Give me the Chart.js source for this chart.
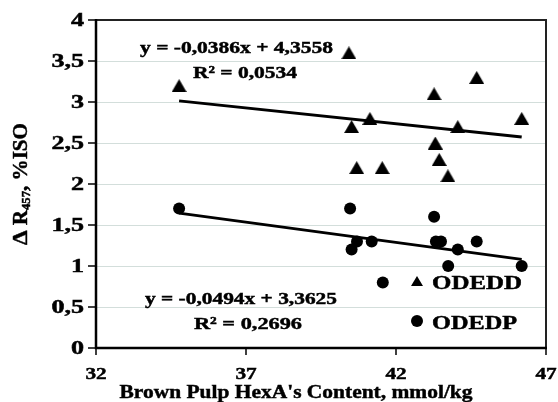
<!DOCTYPE html>
<html><head><meta charset="utf-8">
<script src="https://cdn.jsdelivr.net/npm/chart.js@4"></script>
<style>html,body{margin:0;padding:0;background:#fff;overflow:hidden}canvas{display:block}</style>
</head><body>
<canvas id="c" width="558" height="402"></canvas>
<script>
// ---- data ----
const odeddX = [34.77, 40.43, 40.52, 40.69, 41.13, 41.54, 43.27, 43.31, 43.44, 43.73, 44.06, 44.69, 46.19];
const odeddY = [3.2, 3.6, 2.7, 2.2, 2.8, 2.2, 3.1, 2.5, 2.3, 2.1, 2.7, 3.3, 2.8];
const odedpX = [34.77, 40.47, 40.52, 40.70, 41.19, 41.56, 43.27, 43.33, 43.50, 43.74, 44.06, 44.69, 46.19];
const odedpY = [1.7, 1.7, 1.2, 1.3, 1.3, 0.8, 1.6, 1.3, 1.3, 1.0, 1.2, 1.3, 1.0];
const seriesNames = ['ODEDD', 'ODEDP'];
const trendD = {slope: -0.0386, intercept: 4.3558, r2: '0,0534'};
const trendP = {slope: -0.0494, intercept: 3.3625, r2: '0,2696'};
const eqD = 'y = -0,0386x + 4,3558';
const eqP = 'y = -0,0494x + 3,3625';
const xTickLabels = ['32', '37', '42', '47'];
const yTickLabels = ['0', '0,5', '1', '1,5', '2', '2,5', '3', '3,5', '4'];
const xTitle = "Brown Pulp HexA's Content, mmol/kg";

const pts = (xs, ys) => xs.map((x, i) => ({x, y: ys[i]}));
const trendPts = (xs, t) => {
  const a = Math.min(...xs), b = Math.max(...xs);
  return [{x: a, y: t.intercept + t.slope * a}, {x: b, y: t.intercept + t.slope * b}];
};

function triCanvas(w, h) {
  const c = document.createElement('canvas');
  c.width = w; c.height = h;
  const g = c.getContext('2d');
  g.fillStyle = '#000';
  g.beginPath(); g.moveTo(w / 2, 0); g.lineTo(w, h); g.lineTo(0, h); g.closePath(); g.fill();
  return c;
}
const triBig = triCanvas(15, 13);
const triSmall = triCanvas(12, 10);

const FONT = '"Liberation Serif", "Times New Roman", serif';
function drawRuns(ctx, runs, x, y, align, opt) {
  let w = 0;
  runs.forEach(r => { ctx.font = `bold ${r.size}px ${FONT}`; r.w = ctx.measureText(r.t).width; w += r.w; });
  const sx = opt.w ? opt.w / w : (opt.sx || 1);
  const tw = w * sx;
  const x0 = align === 'center' ? x - tw / 2 : align === 'right' ? x - tw : x;
  ctx.save();
  ctx.translate(x0, y); ctx.scale(sx, 1);
  ctx.fillStyle = '#000'; ctx.strokeStyle = '#000'; ctx.lineWidth = 0.45;
  ctx.textAlign = 'left'; ctx.textBaseline = opt.base || 'alphabetic';
  let cx = 0;
  runs.forEach(r => {
    ctx.font = `bold ${r.size}px ${FONT}`;
    ctx.fillText(r.t, cx, r.dy || 0);
    ctx.strokeText(r.t, cx, r.dy || 0);
    cx += r.w;
  });
  ctx.restore();
}

const deco = {
  id: 'deco',
  afterDraw(chart) {
    const ctx = chart.ctx, xs = chart.scales.x, ys = chart.scales.y;
    const L = xs.left, R = xs.right, T = ys.top, B = ys.bottom;
    ctx.save();
    // frame
    ctx.strokeStyle = '#222'; ctx.lineWidth = 2;
    ctx.beginPath(); ctx.moveTo(L, T); ctx.lineTo(R, T); ctx.lineTo(R, B); ctx.stroke();
    ctx.strokeStyle = '#000'; ctx.lineWidth = 2.5;
    ctx.beginPath(); ctx.moveTo(L, T - 1); ctx.lineTo(L, B); ctx.lineTo(R + 1, B); ctx.stroke();
    // tick marks
    ctx.lineWidth = 1.5;
    ys.ticks.forEach(t => { const p = ys.getPixelForValue(t.value); ctx.beginPath(); ctx.moveTo(L - 8, p); ctx.lineTo(L, p); ctx.stroke(); });
    xs.ticks.forEach(t => { const p = xs.getPixelForValue(t.value); ctx.beginPath(); ctx.moveTo(p, B); ctx.lineTo(p, B + 7); ctx.stroke(); });
    // tick labels
    ys.ticks.forEach((t, i) => drawRuns(ctx, [{t: yTickLabels[i], size: 18}], L - 12, ys.getPixelForValue(t.value) + 1, 'right', {sx: 1.45, base: 'middle'}));
    xs.ticks.forEach((t, i) => drawRuns(ctx, [{t: xTickLabels[i], size: 17}], xs.getPixelForValue(t.value), 379, 'center', {sx: 1.25}));
    // axis titles
    drawRuns(ctx, [{t: xTitle, size: 19}], 296, 398, 'center', {w: 353});
    ctx.save(); ctx.translate(27, 184); ctx.rotate(-Math.PI / 2);
    drawRuns(ctx, [{t: 'Δ', size: 22}, {t: ' R', size: 20}, {t: '457', size: 12, dy: 3}, {t: ', %ISO', size: 20}], 0, 0, 'center', {w: 122});
    ctx.restore();
    // trendline labels
    drawRuns(ctx, [{t: eqD, size: 17}], 140, 53, 'left', {w: 193});
    drawRuns(ctx, [{t: 'R² = ' + trendD.r2, size: 17}], 193, 78, 'left', {w: 104});
    drawRuns(ctx, [{t: eqP, size: 17}], 145, 304, 'left', {w: 192});
    drawRuns(ctx, [{t: 'R² = ' + trendP.r2, size: 17}], 194, 329, 'left', {w: 108});
    // legend
    ctx.drawImage(triSmall, 417 - 6, 281 - 5);
    ctx.fillStyle = '#000'; ctx.beginPath(); ctx.arc(417, 321, 6, 0, Math.PI * 2); ctx.fill();
    drawRuns(ctx, [{t: seriesNames[0], size: 19}], 432, 289, 'left', {w: 90});
    drawRuns(ctx, [{t: seriesNames[1], size: 19}], 432, 329, 'left', {w: 85});
    ctx.restore();
  }
};

new Chart(document.getElementById('c'), {
  type: 'scatter',
  data: {
    datasets: [
      {label: seriesNames[0], data: pts(odeddX, odeddY), pointStyle: triBig, pointRadius: 8, backgroundColor: '#000', borderColor: '#000', borderWidth: 0},
      {label: seriesNames[1], data: pts(odedpX, odedpY), pointStyle: 'circle', pointRadius: 6, backgroundColor: '#000', borderColor: '#000', borderWidth: 0},
      {label: 'Linear (' + seriesNames[0] + ')', data: trendPts(odeddX, trendD), showLine: true, borderColor: '#000', borderWidth: 3, pointRadius: 0},
      {label: 'Linear (' + seriesNames[1] + ')', data: trendPts(odedpX, trendP), showLine: true, borderColor: '#000', borderWidth: 3, pointRadius: 0}
    ]
  },
  options: {
    responsive: false, animation: false, devicePixelRatio: 1,
    layout: {padding: {left: 96, right: 12, top: 20, bottom: 54}},
    plugins: {legend: {display: false}, tooltip: {enabled: false}},
    scales: {
      x: {type: 'linear', min: 32, max: 47, ticks: {display: false, stepSize: 5}, grid: {display: false, drawTicks: false}, border: {display: false}},
      y: {type: 'linear', min: 0, max: 4, ticks: {display: false, stepSize: 0.5}, grid: {color: '#d3dedb', lineWidth: 1, drawTicks: false}, border: {display: false}}
    }
  },
  plugins: [deco]
});
</script>
</body></html>
